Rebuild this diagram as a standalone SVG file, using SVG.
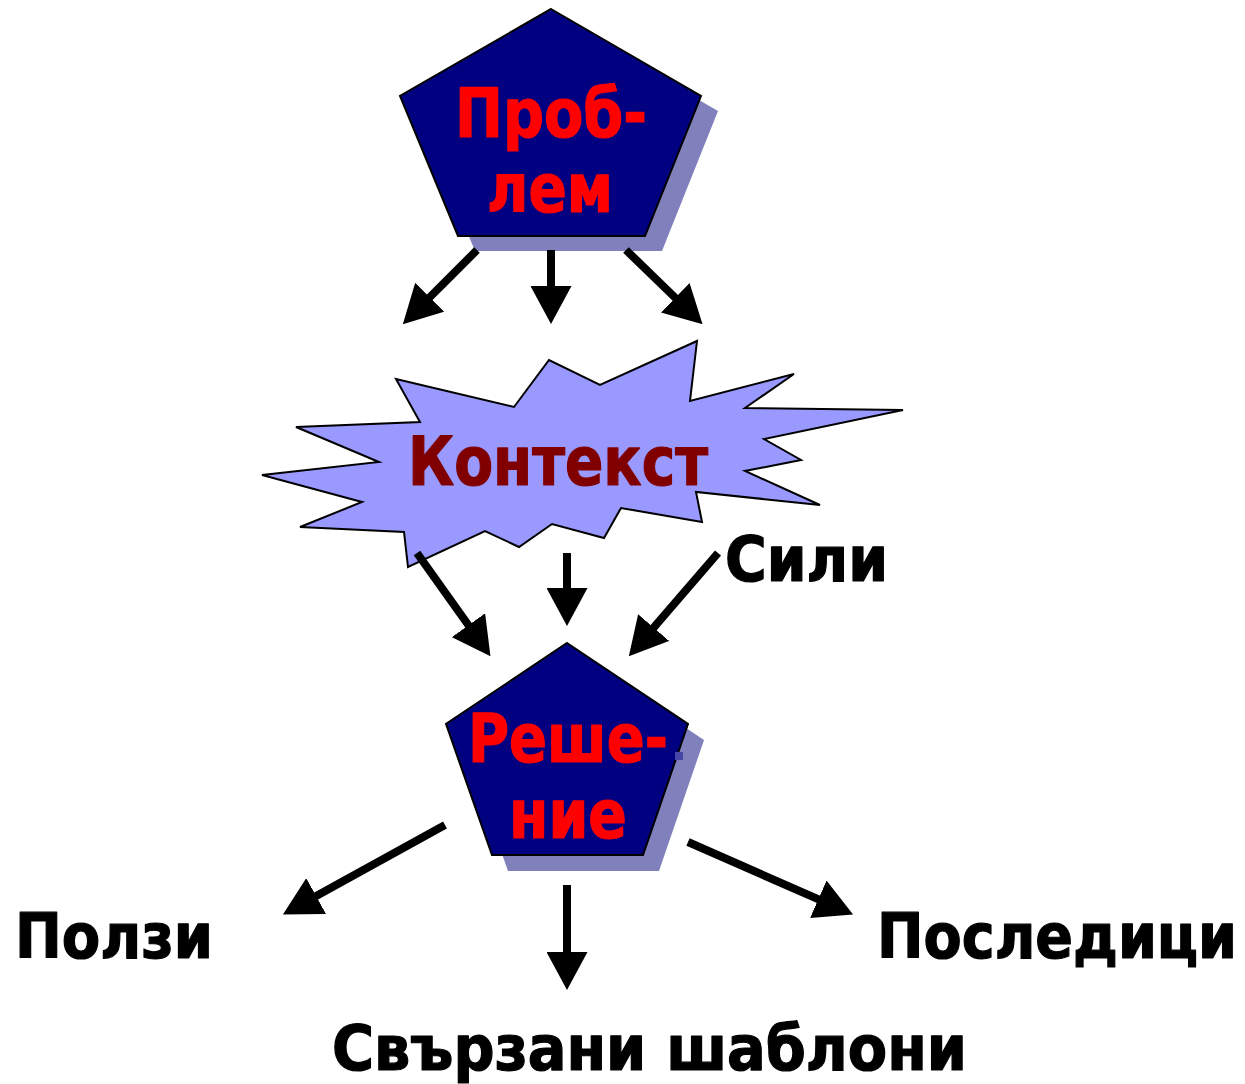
<svg xmlns="http://www.w3.org/2000/svg" width="1245" height="1084" viewBox="0 0 1245 1084">
  <style>
    .lbl { font-family: "DejaVu Sans Condensed", "DejaVu Sans", Verdana, sans-serif; font-weight: bold; stroke-width: 1.2; stroke-linejoin: round; }
    .red { fill: #ff0000; stroke: #ff0000; font-size: 67px; }
    .dark { fill: #800000; stroke: #800000; font-size: 67px; }
    .blk { fill: #000000; stroke: #000000; font-size: 63px; }
    .pent { fill: #000080; stroke: #000000; stroke-width: 2; stroke-linejoin: miter; }
    .shadow { fill: #8080bc; }
    .star { fill: #9999ff; stroke: #000000; stroke-width: 2; stroke-linejoin: miter; }
    .conn { stroke: #000000; stroke-width: 8; fill: none; marker-end: url(#head); }
  </style>
  <defs>
    <marker id="head" markerUnits="userSpaceOnUse" viewBox="0 0 38 41" markerWidth="38" markerHeight="41" refX="1" refY="20.5" orient="auto">
      <path d="M0,0 L38,20.5 L0,41 Z" fill="#000000"/>
    </marker>
  </defs>

  <rect width="1245" height="1084" fill="#ffffff"/>

  <!-- Problem -->
  <g id="problem">
    <polygon class="shadow" points="568,24 718,111 662,251 475,251 417,111"/>
    <polygon class="pent" points="551,9 701,96 645,236 458,236 400,96"/>
    <text class="lbl red" x="455" y="137" textLength="192" lengthAdjust="spacingAndGlyphs">Проб-</text>
    <text class="lbl red" x="487" y="212" textLength="126" lengthAdjust="spacingAndGlyphs">лем</text>
  </g>

  <!-- Context -->
  <g id="context">
    <polygon class="star" points="396,379 514,407 549,360 600,385 697,341 690,401 794,374 745,408 903,410 764,439 801,460 745,471 820,505 696,492 702,522 621,508 604,538 552,524 519,547 485,531 408,567 404,532 300,527 362,502 262,475 379,462 296,427 420,422"/>
    <text class="lbl dark" x="408" y="485" textLength="300" lengthAdjust="spacingAndGlyphs">Контекст</text>
  </g>

  <!-- Forces -->
  <g id="forces">
    <text class="lbl blk" x="725" y="581" textLength="163" lengthAdjust="spacingAndGlyphs">Сили</text>
  </g>

  <!-- Solution -->
  <g id="solution">
    <polygon class="shadow" points="583,659 704,740 659,871 508,871 462,740"/>
    <polygon class="pent" points="567,643 688,724 643,855 492,855 446,724"/>
    <rect x="675" y="752" width="8" height="8" fill="#4646a6"/>
    <text class="lbl red" x="468" y="762" textLength="200" lengthAdjust="spacingAndGlyphs">Реше-</text>
    <text class="lbl red" x="509" y="838" textLength="118" lengthAdjust="spacingAndGlyphs">ние</text>
  </g>

  <!-- Benefits -->
  <g id="benefits">
    <text class="lbl blk" x="15" y="958" textLength="198" lengthAdjust="spacingAndGlyphs">Ползи</text>
  </g>

  <!-- Consequences -->
  <g id="consequences">
    <text class="lbl blk" x="877" y="958" textLength="360" lengthAdjust="spacingAndGlyphs">Последици</text>
  </g>

  <!-- Related patterns -->
  <g id="related">
    <text class="lbl blk" x="332" y="1070" textLength="635" lengthAdjust="spacingAndGlyphs">Свързани шаблони</text>
  </g>

  <!-- Connectors: each line stops at the arrowhead base -->
  <g id="connectors">
    <line class="conn" x1="477" y1="250" x2="429" y2="298"/>
    <line class="conn" x1="551" y1="250" x2="551" y2="287"/>
    <line class="conn" x1="626" y1="250" x2="676" y2="298.5"/>
    <line class="conn" x1="417" y1="553" x2="469" y2="626"/>
    <line class="conn" x1="567" y1="553" x2="567" y2="589"/>
    <line class="conn" x1="718" y1="553" x2="653" y2="628.3"/>
    <line class="conn" x1="445" y1="825" x2="315.3" y2="896.6"/>
    <line class="conn" x1="567" y1="885" x2="567" y2="953"/>
    <line class="conn" x1="688" y1="842" x2="819.2" y2="899.7"/>
  </g>
</svg>
